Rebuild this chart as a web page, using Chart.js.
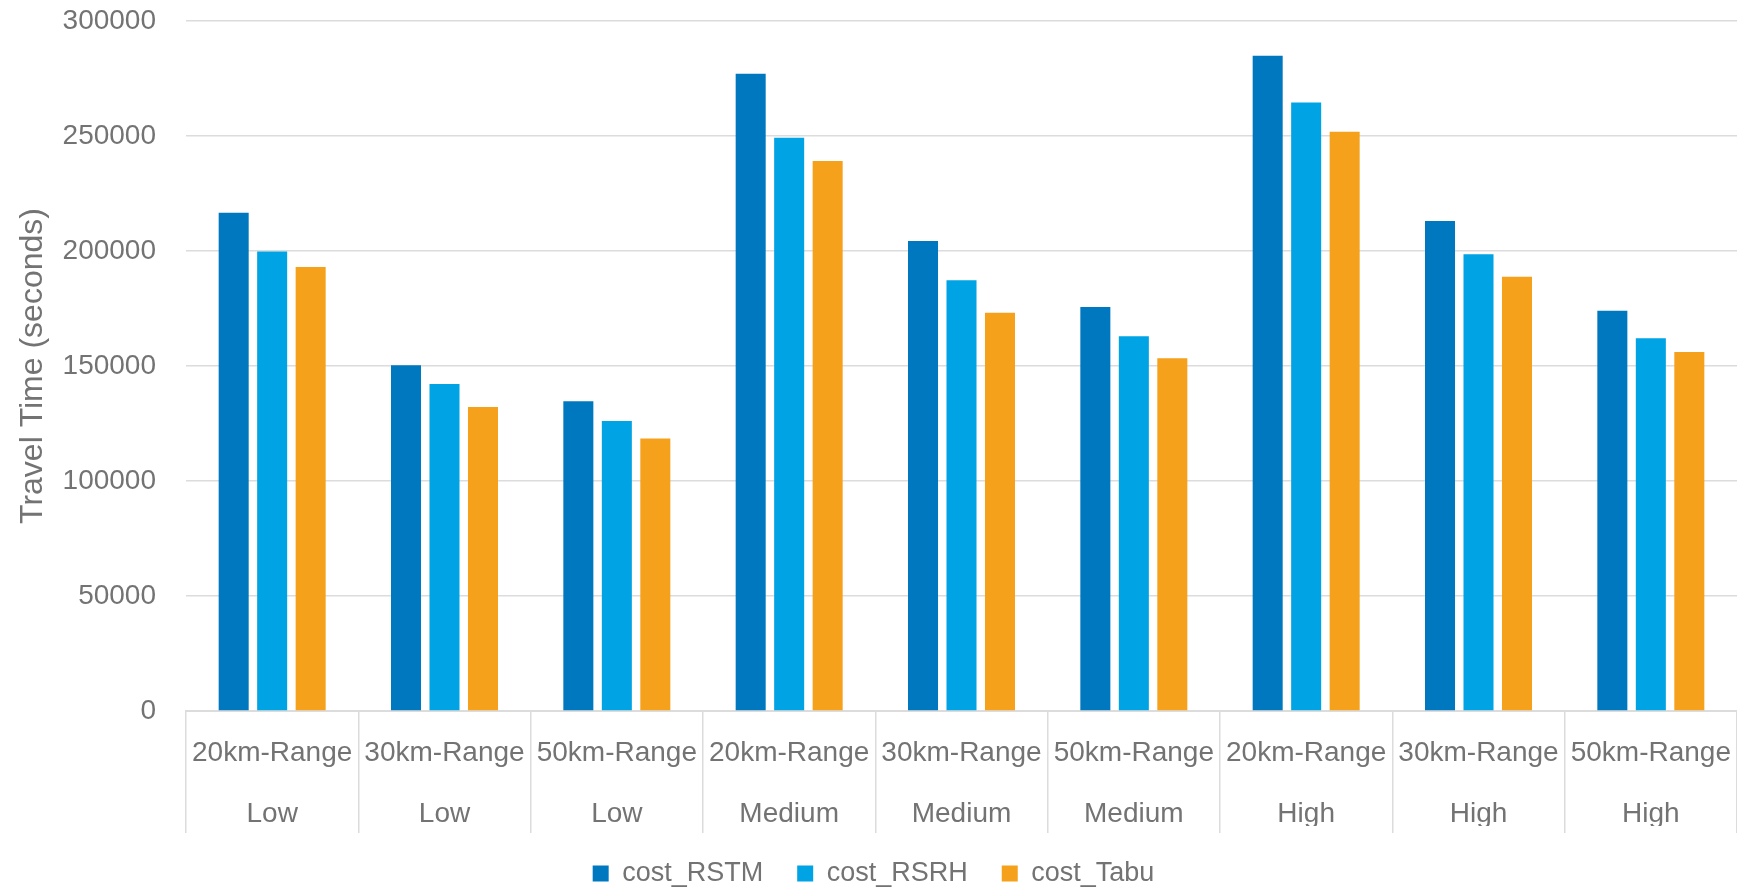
<!DOCTYPE html>
<html>
<head>
<meta charset="utf-8">
<script src="https://cdn.jsdelivr.net/npm/chart.js@4.4.1/dist/chart.umd.min.js"></script>
<style>
  html, body { margin: 0; padding: 0; background: #ffffff; }
  #wrap { width: 1737px; height: 889px; }
</style>
</head>
<body>
<div id="wrap"><canvas id="chart" width="1737" height="889"></canvas></div>
<script>
// Scenario categories (range / demand level)
const ranges = ['20km-Range', '30km-Range', '50km-Range', '20km-Range', '30km-Range', '50km-Range', '20km-Range', '30km-Range', '50km-Range'];
const demand = ['Low', 'Low', 'Low', 'Medium', 'Medium', 'Medium', 'High', 'High', 'High'];

// Travel time in seconds for each method
const costRSTM = [216600, 150300, 134700, 277100, 204400, 175700, 284900, 213000, 174000];
const costRSRH = [199800, 142200, 126100, 249200, 187300, 162900, 264600, 198600, 162100];
const costTabu = [193000, 132200, 118500, 239100, 173100, 153400, 251900, 188800, 156100];

// Value axis ticks
const yTicks = [0, 50000, 100000, 150000, 200000, 250000, 300000];

const textGray = '#737373';
const gridGray = '#dcdcdc';

Chart.defaults.font.family = "'Liberation Sans', Arial, sans-serif";
Chart.defaults.color = textGray;

const labels = ranges.map((r, i) => [r, demand[i]]);

// Nudges the legend row slightly to the right of the canvas centre
const legendNudge = {
  id: 'legendNudge',
  afterLayout(chart) {
    if (chart.legend) {
      chart.legend.left += 5;
      chart.legend.right += 5;
    }
  }
};

new Chart(document.getElementById('chart'), {
  type: 'bar',
  data: {
    labels: labels,
    datasets: [
      { label: 'cost_RSTM', data: costRSTM, backgroundColor: '#0078BF' },
      { label: 'cost_RSRH', data: costRSRH, backgroundColor: '#00A3E3' },
      { label: 'cost_Tabu', data: costTabu, backgroundColor: '#F5A11B' }
    ]
  },
  plugins: [legendNudge],
  options: {
    responsive: false,
    animation: false,
    devicePixelRatio: 1,
    layout: { padding: { top: 0, right: 0, bottom: -8, left: 0 } },
    datasets: {
      bar: { categoryPercentage: 0.67, barPercentage: 0.78, borderWidth: 0 }
    },
    plugins: {
      tooltip: { enabled: false },
      legend: {
        position: 'bottom',
        labels: {
          boxWidth: 16,
          boxHeight: 16,
          padding: 34,
          color: textGray,
          font: { size: 27 }
        }
      }
    },
    scales: {
      x: {
        offset: true,
        grid: {
          offset: true,
          drawOnChartArea: false,
          drawTicks: true,
          tickLength: 122,
          color: gridGray,
          lineWidth: 1.5
        },
        border: { display: true, color: gridGray, width: 2 },
        ticks: {
          autoSkip: false,
          maxRotation: 0,
          minRotation: 0,
          padding: -110.5,
          color: textGray,
          font: { size: 28, lineHeight: 61 / 28 }
        },
        afterFit: (scale) => { scale.height = 115; }
      },
      y: {
        min: 0,
        max: 300000,
        afterBuildTicks: (scale) => { scale.ticks = yTicks.map(v => ({ value: v })); },
        grid: { color: gridGray, lineWidth: 1.5, drawTicks: false },
        border: { display: false },
        ticks: {
          padding: 30,
          color: textGray,
          font: { size: 28 },
          callback: (v) => String(v)
        },
        title: {
          display: true,
          text: 'Travel Time (seconds)',
          color: textGray,
          font: { size: 32 },
          padding: { top: 13.8, bottom: 0 }
        },
        afterFit: (scale) => {
          scale.width = 186;
          scale.paddingTop = 21;
          scale.paddingBottom = 0;
        }
      }
    }
  }
});
</script>
</body>
</html>
